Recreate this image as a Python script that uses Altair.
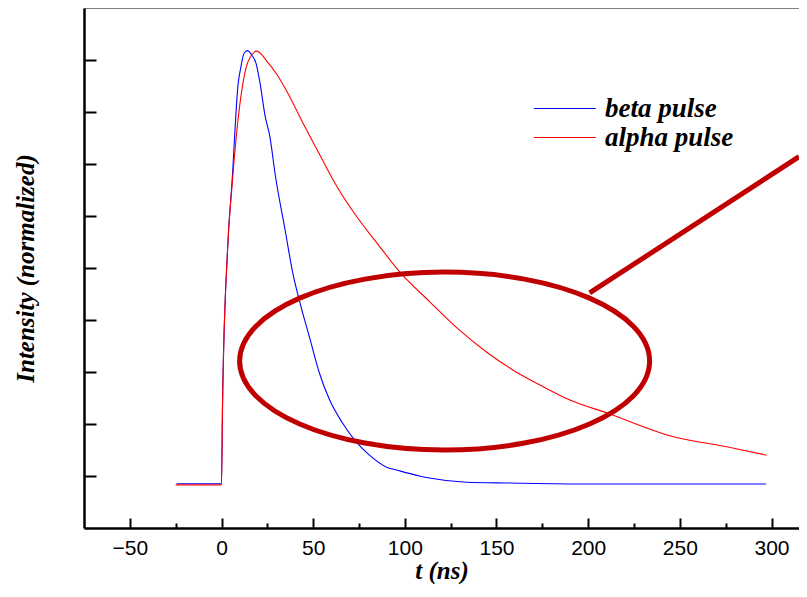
import altair as alt
import pandas as pd

# ---- data ----
beta_t = [-24.5, -12, -1, 0, 0.6, 3.3, 5.8, 9.1, 10.6, 12.3, 14.2, 16.4, 18.8, 21, 23.7,
          26.4, 29.5, 34.6, 38.9, 43.8, 48, 53.4, 59, 66, 73.6, 80.7, 90, 97, 108, 113.4,
          133.6, 157, 200.7, 250, 297]
beta_v = [0.85, 0.85, 0.85, 0.85, 2.46, 5.35, 6.69, 8.55, 8.87, 9.13, 9.18, 9.1, 8.94, 8.56, 7.94,
          7.52, 6.75, 5.75, 4.9, 4.2, 3.67, 2.98, 2.46, 2.02, 1.65, 1.40, 1.17, 1.10, 1.0, 0.96,
          0.88, 0.865, 0.846, 0.846, 0.846]

alpha_t = [-25, -12, -1, 0, 0.6, 3.3, 6, 8.4, 11.1, 14.4, 19.3, 24.7, 30.2, 35.6, 44.4,
           52.5, 61.9, 73.9, 84.8, 97.3, 113.6, 128.4, 144.7, 158.9, 173.7, 190, 210.4,
           242.9, 278.8, 297.3]
alpha_v = [0.83, 0.83, 0.83, 0.83, 2.46, 5.35, 6.69, 7.65, 8.42, 8.96, 9.17, 8.98, 8.72, 8.4, 7.79,
           7.25, 6.63, 5.98, 5.48, 4.92, 4.35, 3.85, 3.38, 3.04, 2.75, 2.46, 2.21,
           1.79, 1.54, 1.40]

series_names = ["beta pulse", "alpha pulse"]
series_colors = ["#0000ff", "#ff0000"]

x_major = [-50, 0, 50, 100, 150, 200, 250, 300]
x_minor = [-25, 25, 75, 125, 175, 225, 275]
y_ticks = [1, 2, 3, 4, 5, 6, 7, 8, 9]

ellipse_t = [121.7]
ellipse_v = [3.21]
pointer_t = [200.8]
pointer_v = [4.52]
pointer_t2 = [315]
pointer_v2 = [7.14]

# ---- tables ----
df = pd.concat([
    pd.DataFrame({"t": beta_t, "v": beta_v, "series": series_names[0]}),
    pd.DataFrame({"t": alpha_t, "v": alpha_v, "series": series_names[1]}),
], ignore_index=True)
df["idx"] = range(len(df))

ell_df = pd.DataFrame({"t": ellipse_t, "v": ellipse_v})
ptr_df = pd.DataFrame({"t": pointer_t, "v": pointer_v, "t2": pointer_t2, "v2": pointer_v2})

W, H = 715, 520
x_scale = alt.Scale(domain=[-75, 315], nice=False, zero=False)
y_scale = alt.Scale(domain=[0, 10], nice=False, zero=False)

serif = "Liberation Serif"
sans = "Liberation Sans"

lines = alt.Chart(df).mark_line(strokeWidth=1.1, interpolate="monotone").encode(
    x=alt.X("t:Q", scale=x_scale, axis=alt.Axis(
        orient="bottom", values=x_major, ticks=False, tickSize=0, grid=False,
        domainColor="black", domainWidth=2.5,
        labelFont=sans, labelFontSize=21, labelColor="black", labelPadding=9,
        title="t (ns)", titleFont=serif, titleFontSize=25, titleFontStyle="italic",
        titleFontWeight="bold", titleColor="black", titlePadding=0)),
    y=alt.Y("v:Q", scale=y_scale, axis=alt.Axis(
        orient="left", labels=False, ticks=False, tickSize=0, grid=False,
        domainColor="black", domainWidth=2.5,
        title="Intensity (normalized)", titleFont=serif, titleFontSize=25,
        titleFontStyle="italic", titleFontWeight="bold", titleColor="black",
        titlePadding=46)),
    color=alt.Color("series:N", scale=alt.Scale(domain=series_names, range=series_colors),
                    legend=alt.Legend(
                        title=None, orient="none", legendX=488, legendY=87,
                        symbolType="M-5,0H1", symbolSize=427, symbolStrokeWidth=1,
                        labelFont=serif, labelFontSize=27, labelFontStyle="italic",
                        labelFontWeight="bold", labelColor="black", labelOffset=6,
                        rowPadding=1, padding=0)),
    order="idx:Q",
)

major_ticks = alt.Chart(df).mark_point(opacity=0).encode(
    x=alt.X("t:Q", scale=x_scale, axis=alt.Axis(
        orient="top", offset=-H, values=x_major, labels=False, domain=False, grid=False,
        tickSize=10, tickWidth=2, tickColor="black", title=None)),
    y=alt.Y("v:Q", scale=y_scale, axis=alt.Axis(
        orient="right", offset=-W, values=y_ticks, labels=False, domain=False, grid=False,
        tickSize=12, tickWidth=2, tickColor="black", title=None)),
)

minor_ticks = alt.Chart(df).mark_point(opacity=0).encode(
    x=alt.X("t:Q", scale=x_scale, axis=alt.Axis(
        orient="top", offset=-H, values=x_minor, labels=False, domain=False, grid=False,
        tickSize=5, tickWidth=2, tickColor="black", title=None)),
    y=alt.Y("v:Q", scale=y_scale, axis=None),
)

top_border = alt.Chart(df).mark_point(opacity=0).encode(
    x=alt.X("t:Q", scale=x_scale, axis=alt.Axis(
        orient="top", labels=False, ticks=False, grid=False, domain=True,
        domainColor="#808080", domainWidth=1.2, title=None)),
    y=alt.Y("v:Q", scale=y_scale, axis=None),
)

k = 0.5523
e = 0.434
ke = round(k * e, 4)
ellipse_path = (f"M-1,0 C-1,{-ke} {-k},{-e} 0,{-e} C{k},{-e} 1,{-ke} 1,0 "
                f"C1,{ke} {k},{e} 0,{e} C{-k},{e} -1,{ke} -1,0 Z")

ellipse = alt.Chart(ell_df).mark_point(
    shape=ellipse_path, size=410 * 410, filled=False, stroke="#c00000",
    strokeWidth=5, opacity=1,
).encode(
    x=alt.X("t:Q", scale=x_scale, axis=None),
    y=alt.Y("v:Q", scale=y_scale, axis=None),
)

pointer = alt.Chart(ptr_df).mark_rule(stroke="#c00000", strokeWidth=5).encode(
    x=alt.X("t:Q", scale=x_scale, axis=None),
    y=alt.Y("v:Q", scale=y_scale, axis=None),
    x2="t2:Q",
    y2="v2:Q",
)

chart = alt.layer(top_border, minor_ticks, major_ticks, lines, ellipse, pointer).resolve_axis(
    x="independent", y="independent"
).properties(
    width=W, height=H,
    autosize=alt.AutoSizeParams(type="none"),
    padding={"left": 76, "top": 0, "right": 0, "bottom": 61},
    background="white",
).configure_view(stroke=None)

chart.save("out.html", embed_options={"renderer": "svg", "actions": False})
